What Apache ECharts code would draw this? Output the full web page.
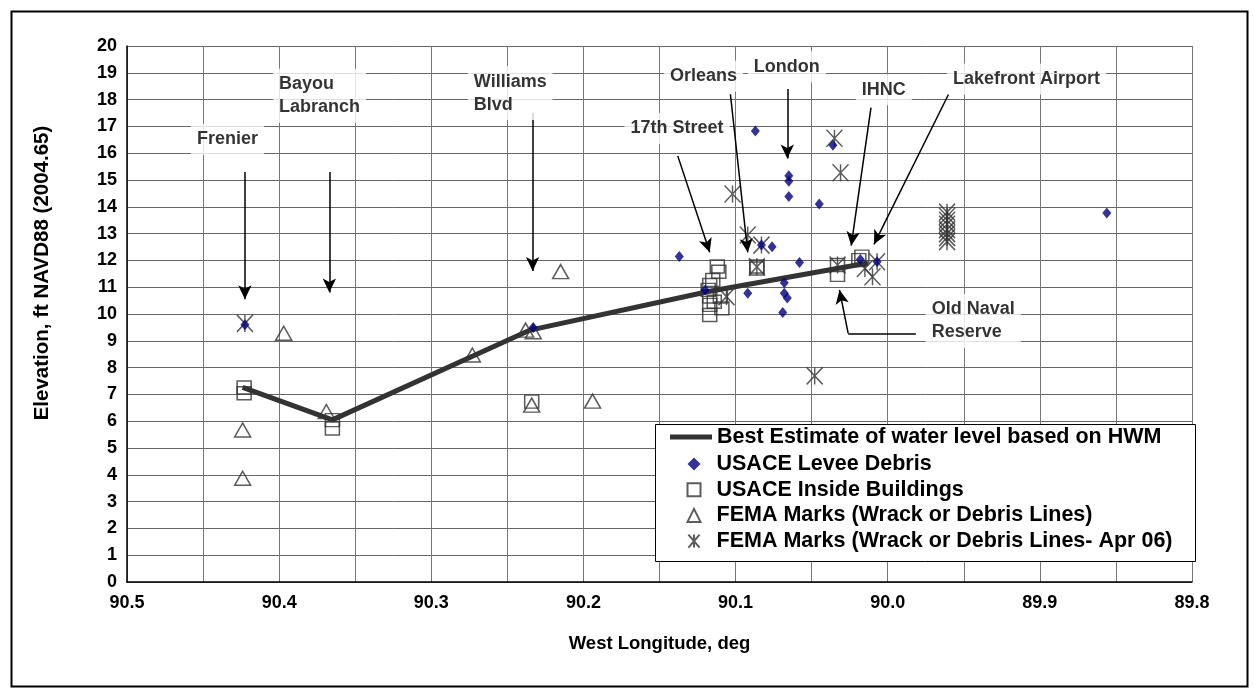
<!DOCTYPE html>
<html><head><meta charset="utf-8">
<script src="https://cdn.jsdelivr.net/npm/echarts@6/dist/echarts.min.js"></script>
<style>html,body{margin:0;padding:0;background:#fff}#c{width:1254px;height:693px}</style>
</head><body><div id="c"></div>
<script>
// ---- data ----
const xTicks = [90.5, 90.4, 90.3, 90.2, 90.1, 90.0, 89.9, 89.8];
const bestEstimate = [[90.424,7.26],[90.365,6.05],[90.235,9.4],[90.117,10.85],[90.013,11.9]];
const leveeDebris = [[90.4225,9.6],[90.233,9.5],[90.137,12.15],[90.12,10.9],[90.087,16.83],[90.036,16.3],
  [90.065,15.16],[90.065,14.95],[90.065,14.38],[90.045,14.1],[90.083,12.57],[90.076,12.51],[90.058,11.92],
  [90.092,10.77],[90.068,11.17],[90.068,10.77],[90.066,10.6],[90.069,10.06],[90.018,12.03],[90.007,11.95],[89.856,13.77]];
const insideBuildings = [[90.423,7.26],[90.423,7.04],[90.365,6.04],[90.365,5.73],[90.234,6.73],
  [90.112,11.77],[90.111,11.58],[90.115,11.27],[90.117,11.08],[90.118,10.9],[90.117,10.65],[90.117,10.34],
  [90.117,9.96],[90.109,10.21],[90.110,10.65],[90.114,10.46],[90.086,11.77],[90.086,11.7],
  [90.033,11.83],[90.033,11.46],[90.017,12.14],[90.019,12.01]];
const femaMarks = [[90.397,9.28],[90.424,5.67],[90.424,3.87],[90.369,6.36],[90.215,11.58],[90.238,9.4],
  [90.233,9.34],[90.273,8.47],[90.234,6.6],[90.194,6.75]];
const femaApr06 = [[90.4225,9.65],[90.102,14.48],[90.035,16.56],[90.031,15.27],[90.092,12.95],[90.083,12.57],
  [90.086,11.76],[90.048,7.69],[90.106,10.65],[90.007,11.95],[90.01,11.39],[90.015,11.7],[90.033,11.83],
  [89.961,13.8],[89.961,13.65],[89.961,13.5],[89.961,13.35],[89.961,13.15],[89.961,13.0],[89.961,12.85],[89.961,12.7]];
const seriesNames = ['Best Estimate of water level based on HWM','USACE Levee Debris','USACE Inside Buildings',
  'FEMA Marks (Wrack or Debris Lines)','FEMA Marks (Wrack or Debris Lines- Apr 06)'];
// annotation labels: text, box top-left [lon, elev]
const annoLabels = [['Frenier',90.458,17.1],['Bayou\nLabranch',90.404,19.15],['Williams\nBlvd',90.276,19.25],
  ['17th Street',90.173,17.5],['Orleans',90.147,19.45],['London',90.092,19.8],['IHNC',90.021,18.95],
  ['Lakefront Airport',89.961,19.35],['Old Naval\nReserve',89.975,10.75]];
// arrows: [from lon, from elev, to lon, to elev, arrowhead]
const annoArrows = [[90.4225,15.3,90.4225,10.55,1],[90.367,15.3,90.367,10.8,1],[90.2334,17.5,90.2334,11.6,1],
  [90.138,15.9,90.117,12.3,1],[90.1034,18.2,90.092,12.3,1],[90.066,18.4,90.066,15.8,1],[90.011,17.7,90.024,12.55,1],
  [89.96,18.2,90.009,12.6,1],[89.9815,9.28,90.026,9.28,0],[90.026,9.28,90.0317,10.9,1]];

const F = 'Liberation Sans, Arial, sans-serif';
const chart = echarts.init(document.getElementById('c'));
const hollow = {color:'none', borderColor:'#333', borderWidth:1.5};
const starPath = 'path://M0,0L12,14M12,0L0,14M6,0L6,14';
const legendText = {fontFamily:F,fontWeight:'bold',fontSize:21.5,lineHeight:24,color:'#000'};
chart.setOption({
  animation:false,
  backgroundColor:'#fff',
  graphic:[
    {type:'rect',left:9,top:9,shape:{width:1236,height:675},style:{fill:'none',stroke:'#000',lineWidth:2},z:100},
    {type:'rect',left:655,top:424,shape:{width:540,height:137},style:{fill:'#fff',stroke:'#000',lineWidth:1},z:15}
  ],
  grid:{left:127,right:62,top:46,bottom:111},
  legend:[{
    data:[{name:seriesNames[0],icon:'rect'}], orient:'vertical', left:670, top:425, padding:0,
    itemWidth:42, itemHeight:5, itemGap:2, textStyle:legendText, z:20
  },{
    data:seriesNames.slice(1), orient:'vertical', left:685, top:452, padding:0,
    itemWidth:13, itemHeight:13, itemGap:1.7,
    textStyle:Object.assign({padding:[0,0,0,11]},legendText), z:20
  }],
  xAxis:{
    type:'value', inverse:true, min:89.8, max:90.5, interval:0.1,
    name:'West Longitude, deg', nameLocation:'middle', nameGap:52,
    nameTextStyle:{fontFamily:F,fontWeight:'bold',fontSize:18.5,color:'#000'},
    axisLine:{lineStyle:{color:'#000',width:1.5}}, axisTick:{show:false},
    axisLabel:{formatter:v=>v.toFixed(1),fontFamily:F,fontWeight:'bold',fontSize:18,color:'#000',margin:12},
    splitLine:{show:true,lineStyle:{color:'#777',width:1}},
    minorTick:{show:false,splitNumber:2}, minorSplitLine:{show:true,lineStyle:{color:'#777',width:1}}
  },
  yAxis:{
    type:'value', min:0, max:20, interval:1,
    name:'Elevation, ft NAVD88 (2004.65)', nameLocation:'middle', nameGap:74,
    nameTextStyle:{fontFamily:F,fontWeight:'bold',fontSize:20.5,color:'#000',padding:[0,0,0,82]},
    axisLine:{show:true,lineStyle:{color:'#000',width:1.5}}, axisTick:{show:false},
    axisLabel:{fontFamily:F,fontWeight:'bold',fontSize:18,color:'#000',margin:10},
    splitLine:{show:true,lineStyle:{color:'#666',width:1}}
  },
  series:[
    {name:seriesNames[0],type:'line',data:bestEstimate,symbol:'none',lineStyle:{color:'#333',width:5},itemStyle:{color:'#333'},z:2},
    {name:seriesNames[1],type:'scatter',data:leveeDebris,symbol:'diamond',symbolSize:[9,11],itemStyle:{color:'#000080'},z:4},
    {name:seriesNames[2],type:'scatter',data:insideBuildings,symbol:'rect',symbolSize:[14,13],itemStyle:hollow,z:3},
    {name:seriesNames[3],type:'scatter',data:femaMarks,symbol:'triangle',symbolSize:[16,14],itemStyle:hollow,z:3},
    {name:seriesNames[4],type:'scatter',data:femaApr06,symbol:starPath,symbolSize:[16,17],itemStyle:{color:'none',borderColor:'#333',borderWidth:1.5},z:3},
    {name:'annotations',type:'scatter',silent:true,z:10,symbolSize:0,
      data:annoLabels.map(a=>({name:a[0],value:[a[1],a[2]]})),
      label:{show:true,position:[0,0],formatter:'{b}',align:'left',verticalAlign:'top',
        fontFamily:F,fontWeight:'bold',fontSize:18,lineHeight:23,color:'#000',backgroundColor:'#fff',padding:[4,6]},
      markLine:{silent:true,symbol:['none','none'],label:{show:false},animation:false,
        lineStyle:{color:'#000',width:1.5,type:'solid'},
        data:annoArrows.map(a=>[{coord:[a[0],a[1]],symbol:'none'},{coord:[a[2],a[3]],symbol:a[4]?'arrow':'none',symbolSize:[10,14]}])}
    }
  ]
});
</script></body></html>
